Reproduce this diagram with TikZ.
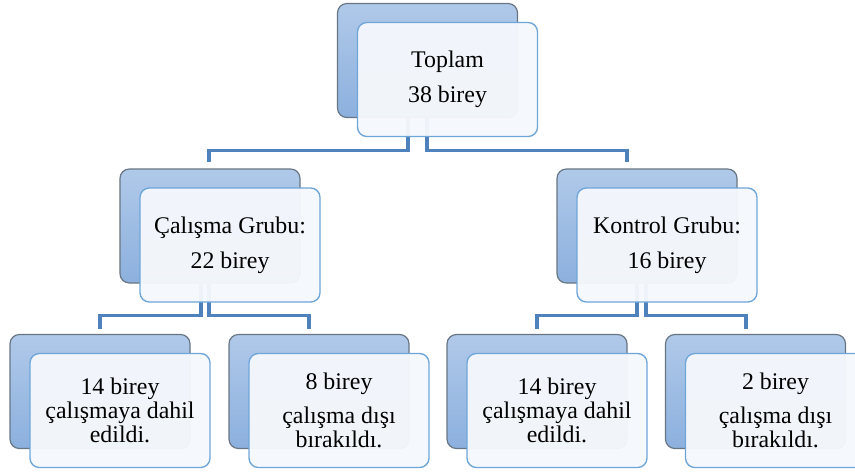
\documentclass[tikz,border=0pt]{standalone}
\usepackage{fontspec}
\setmainfont{Liberation Serif}
\usetikzlibrary{calc}
\definecolor{HBBackTop}{HTML}{B0C9E9}
\definecolor{HBBackBottom}{HTML}{8CB0DE}
\definecolor{HBBackLine}{HTML}{687684}
\definecolor{HBFront}{HTML}{F5F8FC}
\definecolor{HBFrontLine}{HTML}{6EA6DA}
\definecolor{HBLink}{HTML}{4F81BD}
\tikzset{
  backbox/.style={draw=HBBackLine,line width=0.9pt,rounded corners=7pt,
    top color=HBBackTop,bottom color=HBBackBottom,
    minimum width=135pt,minimum height=85.5pt,inner sep=0pt},
  frontbox/.style={draw=HBFrontLine,line width=1pt,rounded corners=7pt,
    fill=HBFront,fill opacity=0.96,text opacity=1,
    minimum width=135pt,minimum height=85.5pt,inner sep=0pt,align=center},
  toptext/.style={font=\fontsize{17.9}{26}\selectfont},
  leaftext/.style={font=\fontsize{17.9}{18}\selectfont},
  link/.style={draw=HBLink,line width=2.3pt}
}

\begin{document}
\begin{tikzpicture}[x=0.75pt,y=-0.75pt]
\clip (0,0) rectangle (855,471);
\fill[white] (0,0) rectangle (855,471);
% back boxes
\node[backbox] (topb) at (427.5,60.5) {};
\node[backbox] (workb) at (210,226) {};
\node[backbox] (ctrlb) at (647,226) {};
\node[backbox] (b1b) at (100,391.5) {};
\node[backbox] (b2b) at (319,391.5) {};
\node[backbox] (b3b) at (537,391.5) {};
\node[backbox] (b4b) at (755.5,391.5) {};
% connectors
\draw[link] ($(topb.south)+(-19.5,0)$) -- ++(0,32.5) -| ($(workb.north)+(-1,-6)$);
\draw[link] ($(topb.south)+(-0.5,0)$) -- ++(0,32.5) -| ($(ctrlb.north)+(-20,-6)$);
\draw[link] ($(workb.south)+(-9,0)$) -- ++(0,32) -| ($(b1b.north)+(0,-5)$);
\draw[link] ($(workb.south)+(-1,0)$) -- ++(0,32) -| ($(b2b.north)+(-10,-5)$);
\draw[link] ($(ctrlb.south)+(-10,0)$) -- ++(0,32) -| ($(b3b.north)+(0,-5)$);
\draw[link] ($(ctrlb.south)+(-1,0)$) -- ++(0,32) -| ($(b4b.north)+(-9.5,-5)$);
% front boxes
\node[frontbox,toptext] (topf) at ($(topb)+(20,19)$) {Toplam\\38 birey};
\node[frontbox,toptext] (workf) at ($(workb)+(20,19)$) {Çalışma Grubu:\\22 birey};
\node[frontbox,toptext] (ctrlf) at ($(ctrlb)+(20,19)$) {Kontrol Grubu:\\16 birey};
\node[frontbox,leaftext] (b1f) at ($(b1b)+(20,19)$) {14 birey\\çalışmaya dahil\\edildi.};
\node[frontbox,leaftext] (b2f) at ($(b2b)+(20,19)$) {8 birey\\[7.5pt]çalışma dışı\\bırakıldı.};
\node[frontbox,leaftext] (b3f) at ($(b3b)+(20,19)$) {14 birey\\çalışmaya dahil\\edildi.};
\node[frontbox,leaftext] (b4f) at ($(b4b)+(20,19)$) {2 birey\\[7.5pt]çalışma dışı\\bırakıldı.};
\end{tikzpicture}
\end{document}
